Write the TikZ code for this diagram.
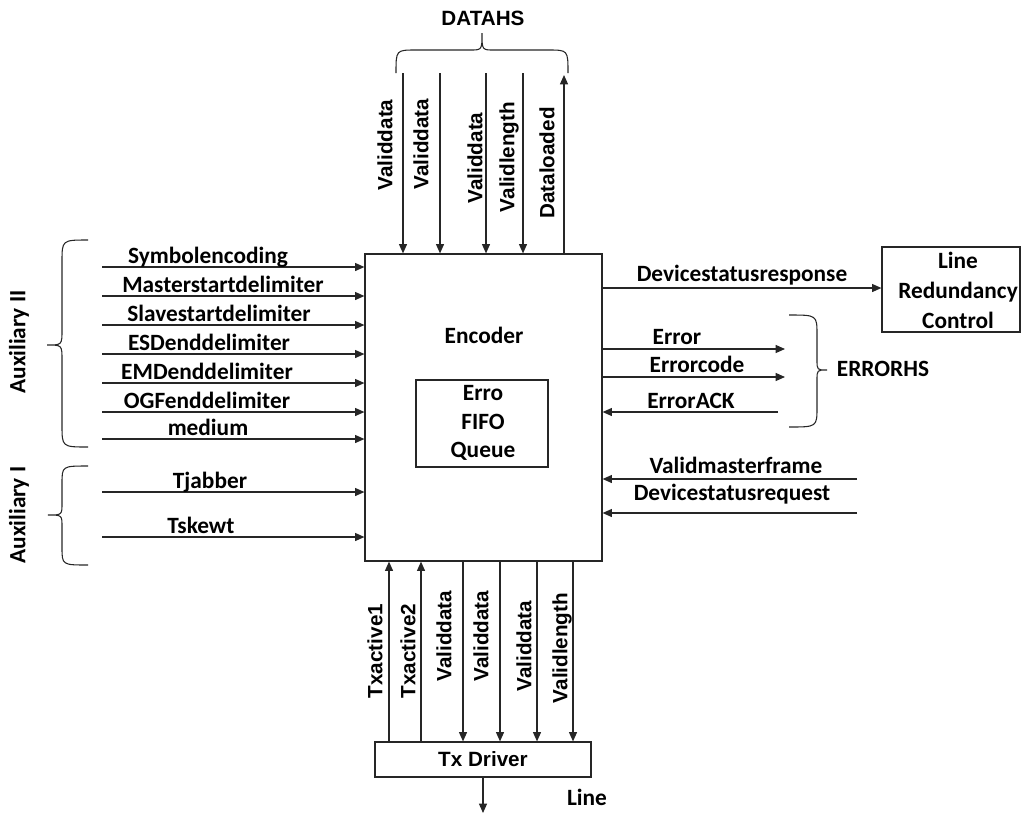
\documentclass[tikz,border=0pt]{standalone}
\usepackage{fontspec}
\setmainfont{Carlito}
\newfontfamily\arialf{Liberation Sans}
\usetikzlibrary{arrows.meta,fit}
\begin{document}
\begin{tikzpicture}[x=0.75pt,y=-0.75pt,
  ln/.style={line width=0.9pt, draw=black!85},
  arr/.style={ln, -{Triangle[length=7pt,width=6pt]}},
  cal/.style={font=\fontsize{17.5}{21.5}\selectfont\bfseries, inner sep=0pt},
  ari/.style={font=\arialf\fontsize{15.5}{17}\selectfont\bfseries, inner sep=0pt},
  vlab/.style={ari, rotate=90},
  vcal/.style={cal, rotate=90},
  box/.style={draw=black!85, line width=0.9pt, inner sep=0pt},
  brc/.style={ln, line width=0.8pt}]
\useasboundingbox (0,0) rectangle (1023,814);

% boxes
\coordinate (encA) at (365,254); \coordinate (encB) at (602,561);
\node[box, fit=(encA)(encB)] (enc) {};
\node[cal, anchor=base] (enclab) at (484,343) {Encoder};
\coordinate (fifoA) at (416,380); \coordinate (fifoB) at (548,467);
\node[box, fit=(fifoA)(fifoB)] (fifo) {};
\node[cal, align=center, font=\fontsize{17.5}{21.4}\selectfont\bfseries] (fifolab) at (483,423) {Erro\\FIFO\\Queue};
\coordinate (lrcA) at (882,247); \coordinate (lrcB) at (1020,332);
\node[box, fit=(lrcA)(lrcB)] (lrc) {};
\node[cal, align=center, font=\fontsize{17.5}{22.5}\selectfont\bfseries] (lrclab) at (958,290) {Line\\Redundancy\\Control};
\coordinate (txA) at (375,742); \coordinate (txB) at (591,777);
\node[box, fit=(txA)(txB)] (tx) {};
\node[ari, anchor=base] (txlab) at (483,766) {Tx Driver};

% top arrows
\coordinate (t1) at (403,73); \coordinate (t2) at (440,73);
\coordinate (t3) at (486,73); \coordinate (t4) at (523,73);
\coordinate (t5) at (564,75);
\draw[arr] (t1) -- (t1 |- enc.north);
\draw[arr] (t2) -- (t2 |- enc.north);
\draw[arr] (t3) -- (t3 |- enc.north);
\draw[arr] (t4) -- (t4 |- enc.north);
\draw[arr] (t5 |- enc.north) -- (t5);
\node[vlab] (lt1) at (385,145) {Validdata};
\node[vlab] (lt2) at (421,144) {Validdata};
\node[vlab] (lt3) at (475,158) {Validdata};
\node[vlab] (lt4) at (509,157) {Validlength};
\node[vlab] (lt5) at (547,163) {Dataloaded};
% DATAHS brace
\draw[brc] (396,73) .. controls (396,50) .. (416,50) -- (470,50)
  .. controls (482,50) .. (482,33) .. controls (482,50) .. (494,50)
  -- (548,50) .. controls (568,50) .. (568,73);
\node[ari, anchor=base] (datahs) at (483,25) {DATAHS};

% left arrows
\foreach \n/\y/\cx/\t in {l1/267/208/Symbolencoding, l2/296/223/Masterstartdelimiter,
  l3/325/219/Slavestartdelimiter, l4/354/209/ESDenddelimiter, l5/383/207/EMDenddelimiter,
  l6/412/207/OGFenddelimiter, l7/439/208/medium, l8/492/210/Tjabber, l9/537/201/Tskewt}{
  \coordinate (\n) at (102,\y);
  \draw[arr] (\n) -- (\n -| enc.west);
  \node[cal, anchor=base] (lab\n) at (\cx,\y-4) {\t};
}
% left braces
\draw[brc] (88,240) .. controls (62,240) .. (62,262) -- (62,330)
  .. controls (62,345) .. (47,345) .. controls (62,345) .. (62,360)
  -- (62,425) .. controls (62,447) .. (88,447);
\node[vcal] (aux2) at (19,342) {Auxiliary II};
\draw[brc] (88,466) .. controls (62,466) .. (62,484) -- (62,503)
  .. controls (62,515) .. (48,515) .. controls (62,515) .. (62,527)
  -- (62,547) .. controls (62,565) .. (88,565);
\node[vcal] (aux1) at (19,515) {Auxiliary I};

% right arrows
\coordinate (r1) at (880,288);
\draw[arr] (r1 -| enc.east) -- (r1 -| lrc.west);
\node[cal, anchor=base] (lr1) at (742,281) {Devicestatusresponse};
\coordinate (e1) at (785,349); \coordinate (e2) at (785,377); \coordinate (e3) at (778,412);
\draw[arr] (e1 -| enc.east) -- (e1);
\draw[arr] (e2 -| enc.east) -- (e2);
\draw[arr] (e3) -- (e3 -| enc.east);
\node[cal, anchor=base] (le1) at (677,344) {Error};
\node[cal, anchor=base] (le2) at (697,372) {Errorcode};
\node[cal, anchor=base] (le3) at (691,408) {ErrorACK};
\draw[brc] (789,315) .. controls (817,315) .. (817,335) -- (817,360)
  .. controls (817,370) .. (827,370) .. controls (817,370) .. (817,380)
  -- (817,407) .. controls (817,427) .. (789,427);
\node[cal, anchor=base] (errhs) at (883,376) {ERRORHS};
\coordinate (v1) at (857,479); \coordinate (v2) at (857,513);
\draw[arr] (v1) -- (v1 -| enc.east);
\draw[arr] (v2) -- (v2 -| enc.east);
\node[cal, anchor=base] (lv1) at (736,473) {Validmasterframe};
\node[cal, anchor=base] (lv2) at (732,500) {Devicestatusrequest};

% bottom arrows
\coordinate (b1) at (389,650); \coordinate (b2) at (421,650);
\coordinate (b3) at (463,650); \coordinate (b4) at (500,650);
\coordinate (b5) at (537,650); \coordinate (b6) at (573,650);
\draw[arr] (b1 |- tx.north) -- (b1 |- enc.south);
\draw[arr] (b2 |- tx.north) -- (b2 |- enc.south);
\draw[arr] (b3 |- enc.south) -- (b3 |- tx.north);
\draw[arr] (b4 |- enc.south) -- (b4 |- tx.north);
\draw[arr] (b5 |- enc.south) -- (b5 |- tx.north);
\draw[arr] (b6 |- enc.south) -- (b6 |- tx.north);
\node[vlab] (lb1) at (375,651) {Txactive1};
\node[vlab] (lb2) at (408,651) {Txactive2};
\node[vlab] (lb3) at (444,636) {Validdata};
\node[vlab] (lb4) at (481,636) {Validdata};
\node[vlab] (lb5) at (524,646) {Validdata};
\node[vlab] (lb6) at (562,648) {Validlength};
\coordinate (lineend) at (483,813);
\draw[arr] (lineend |- tx.south) -- (lineend);
\node[cal, anchor=base] (linelab) at (587,805) {Line};
\end{tikzpicture}
\end{document}
